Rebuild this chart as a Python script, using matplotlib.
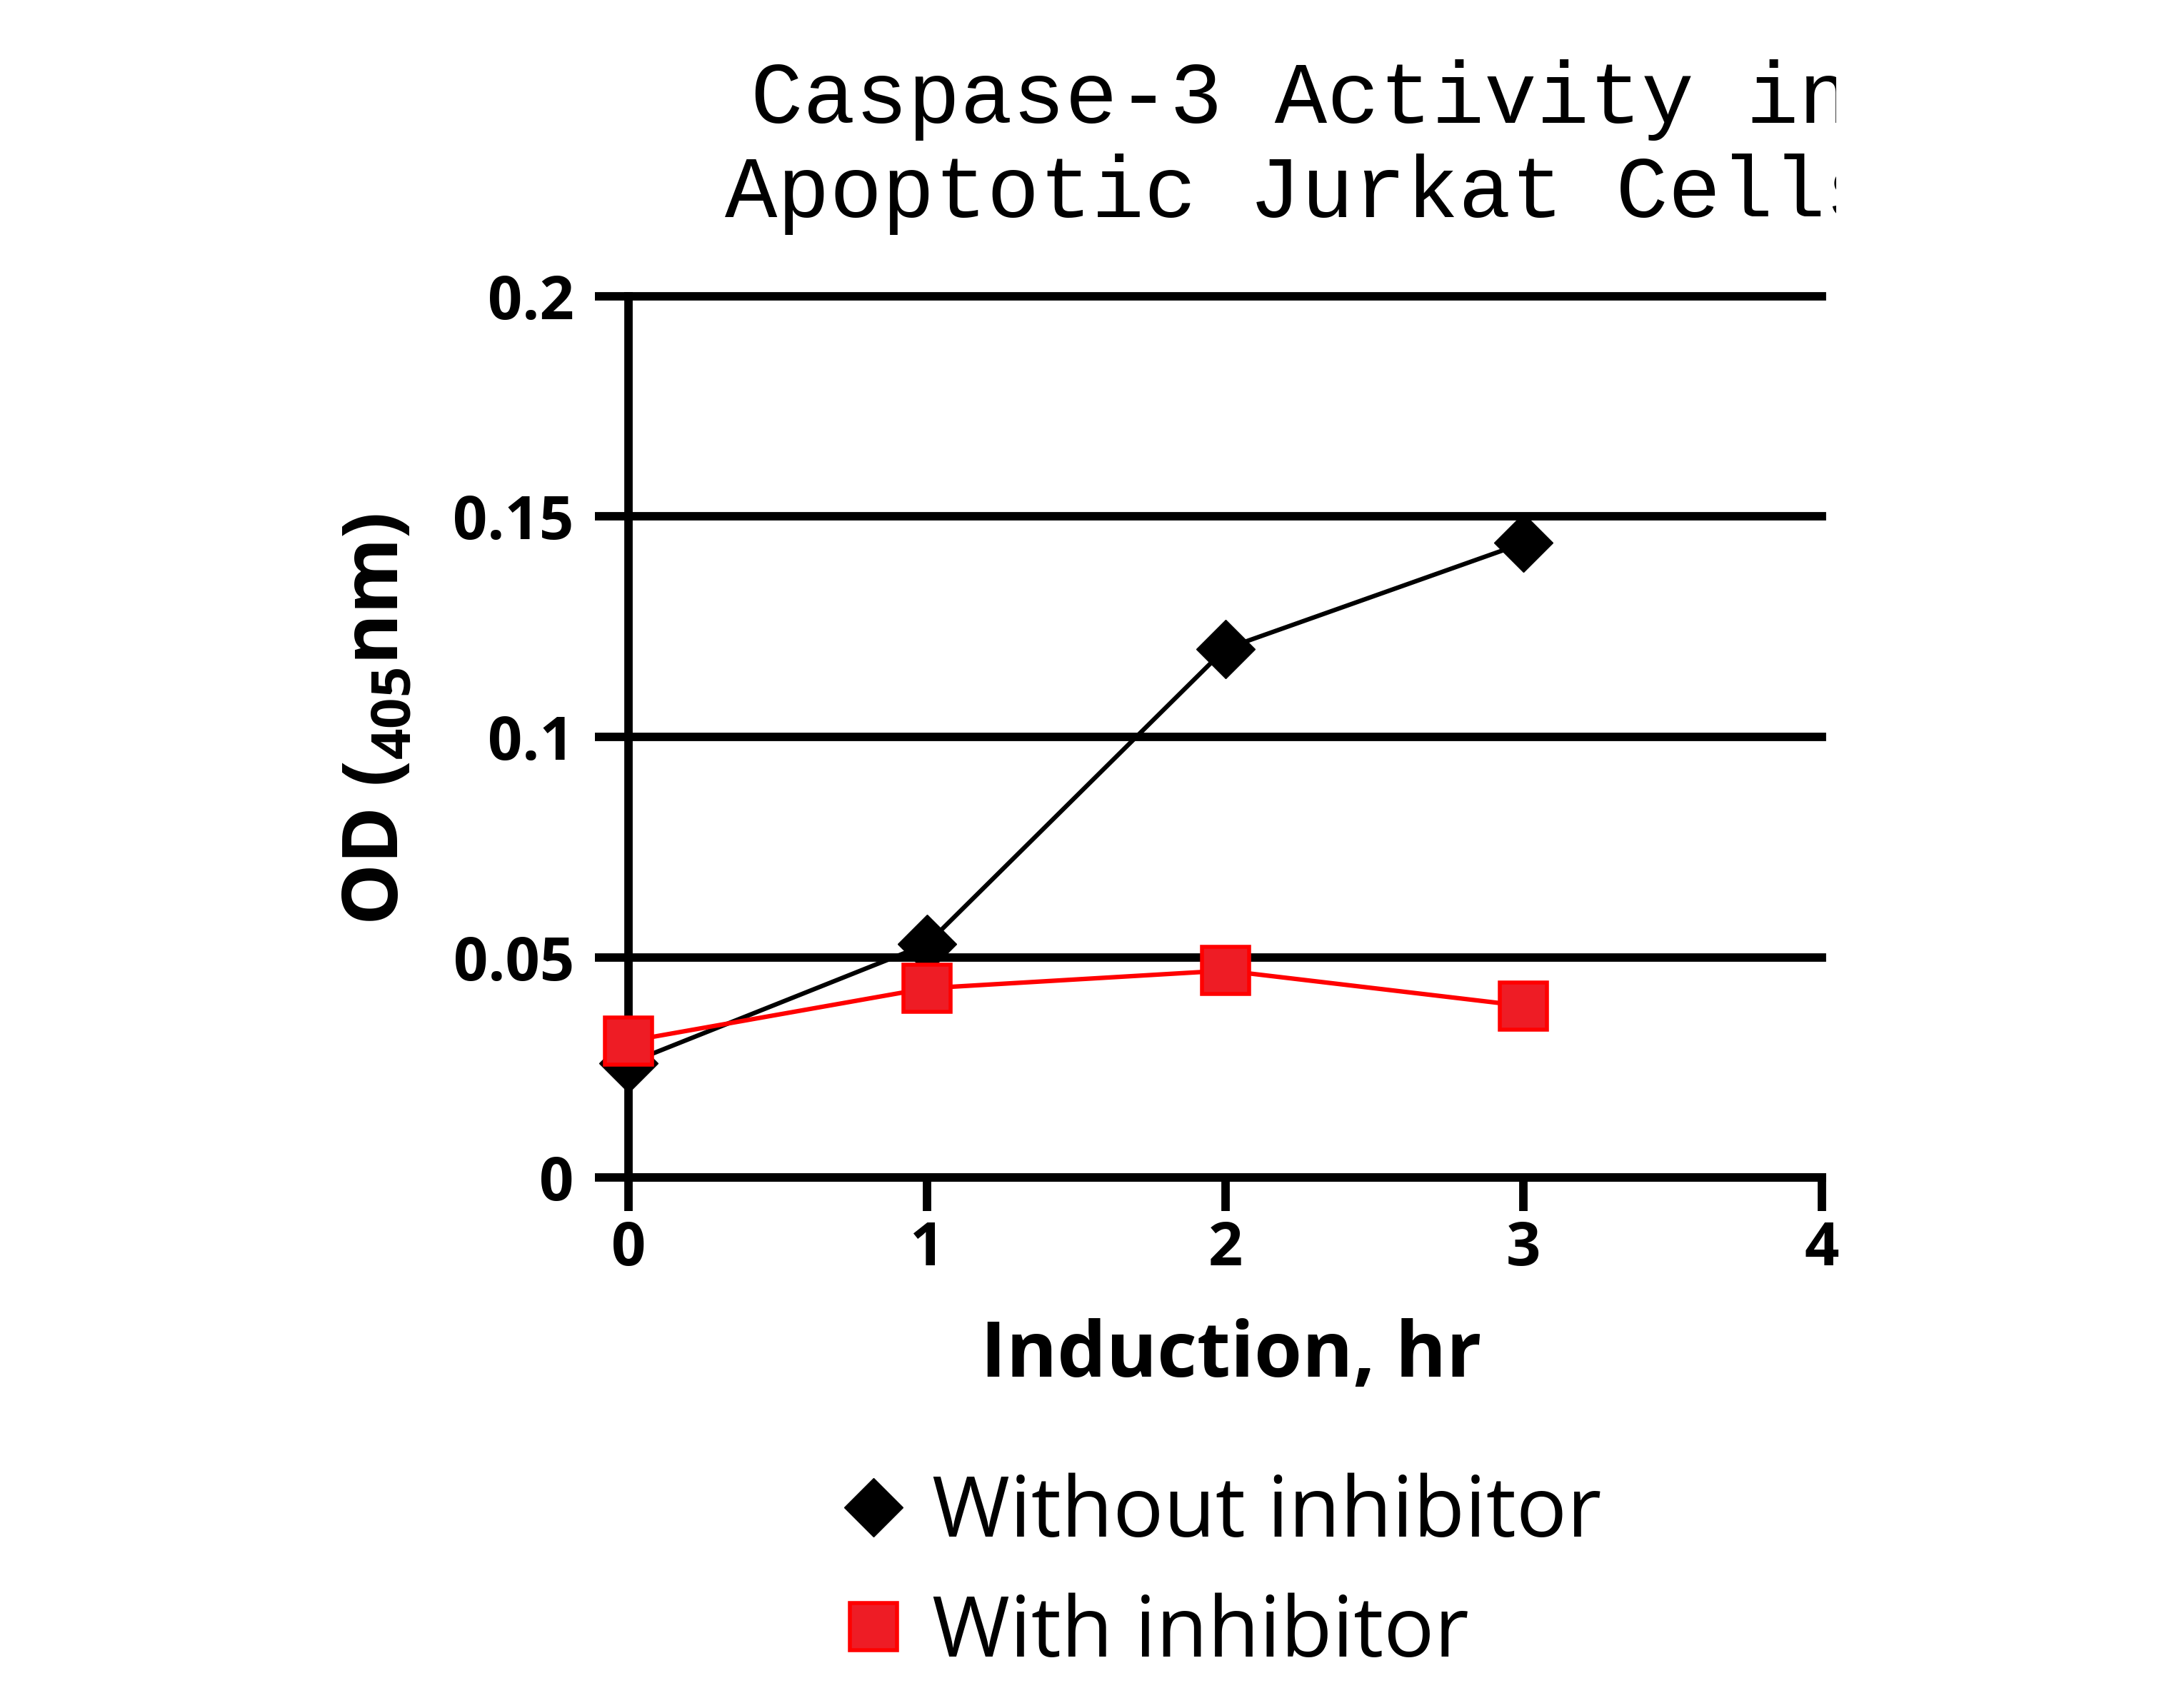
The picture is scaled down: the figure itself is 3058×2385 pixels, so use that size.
import matplotlib
matplotlib.use('Agg')
import matplotlib.pyplot as plt
from matplotlib.lines import Line2D
from matplotlib.transforms import Bbox, TransformedBbox

# data
hours = [0, 1, 2, 3]
od_without = [0.026, 0.053, 0.120, 0.144]
od_with = [0.031, 0.043, 0.047, 0.039]
series_labels = ['Without inhibitor', 'With inhibitor']
x_ticks = [0, 1, 2, 3, 4]
y_ticks = [0, 0.05, 0.1, 0.15, 0.2]
y_tick_labels = ['0', '0.05', '0.1', '0.15', '0.2']
title_lines = ['Caspase-3 Activity in', 'Apoptotic Jurkat Cells']

RED_FACE = '#EE1C25'
RED_EDGE = '#FF0000'

plt.rcParams['font.family'] = ['Open Sans', 'DejaVu Sans']
plt.rcParams['mathtext.fontset'] = 'custom'
plt.rcParams['mathtext.rm'] = 'Open Sans'
plt.rcParams['mathtext.bf'] = 'Open Sans:bold'

fig = plt.figure(figsize=(30.58, 23.85), dpi=100)
ax = fig.add_axes([0.2878, 0.3084, 0.5464, 0.5177])

# series (markers at x=0 sit over the axis, so no clipping)
ax.plot(hours, od_without, color='black', lw=4.5, marker='D', ms=42,
        mfc='black', mec='black', zorder=3, clip_on=False)
ax.plot(hours, od_with, color=RED_EDGE, lw=4.5, marker='s', ms=48,
        mfc=RED_FACE, mec=RED_EDGE, mew=4, zorder=4, clip_on=False)

ax.set_xlim(0, 4)
ax.set_ylim(0, 0.2)
ax.set_xticks(x_ticks)
ax.set_yticks(y_ticks)
ax.set_yticklabels(y_tick_labels)

for side in ['top', 'right']:
    ax.spines[side].set_visible(False)
for side in ['left', 'bottom']:
    ax.spines[side].set_linewidth(8.5)

ax.tick_params(axis='both', direction='out', length=34, width=8.5,
               labelsize=61)
ax.tick_params(axis='y', pad=21)
ax.tick_params(axis='x', pad=8)
for lab in ax.get_xticklabels() + ax.get_yticklabels():
    lab.set_fontweight('bold')

ax.set_axisbelow(True)
ax.yaxis.grid(True, color='black', linewidth=8.5)
ax.xaxis.grid(False)
for tk in ax.yaxis.get_major_ticks():
    tk.gridline.set_clip_on(False)

ax.set_xlabel('Induction, hr', fontsize=78, fontweight='bold')
ax.xaxis.label.set_va('baseline')
ax.xaxis.set_label_coords(0.5047, -0.2256)

ax.set_ylabel(r'OD ($_{\mathbf{405}}$nm)', fontsize=78, fontweight='bold')
ax.yaxis.label.set_va('center')
ax.yaxis.set_label_coords(-0.2096, 0.5204)

# title, cut off at the right like the original
clip = TransformedBbox(Bbox([[0, 0], [0.8406, 1]]), fig.transFigure)
for txt, yy in zip(title_lines, [0.9279, 0.8725]):
    t = fig.text(0.5957, yy, txt, ha='center', va='baseline',
                 family='Liberation Mono', fontsize=88)
    t.set_clip_box(clip)
    t.set_clip_on(True)

# legend
handles = [
    Line2D([], [], linestyle='none', marker='D', ms=42, mfc='black', mec='black'),
    Line2D([], [], linestyle='none', marker='s', ms=48, mfc=RED_FACE,
           mec=RED_EDGE, mew=4),
]
fig.legend(handles, series_labels, loc='center left',
           bbox_to_anchor=(0.3846, 0.0753), frameon=False, fontsize=85,
           handlelength=0.8, handletextpad=0.29, labelspacing=0.43,
           borderpad=0, borderaxespad=0)

fig.savefig('out.png', dpi=100)
